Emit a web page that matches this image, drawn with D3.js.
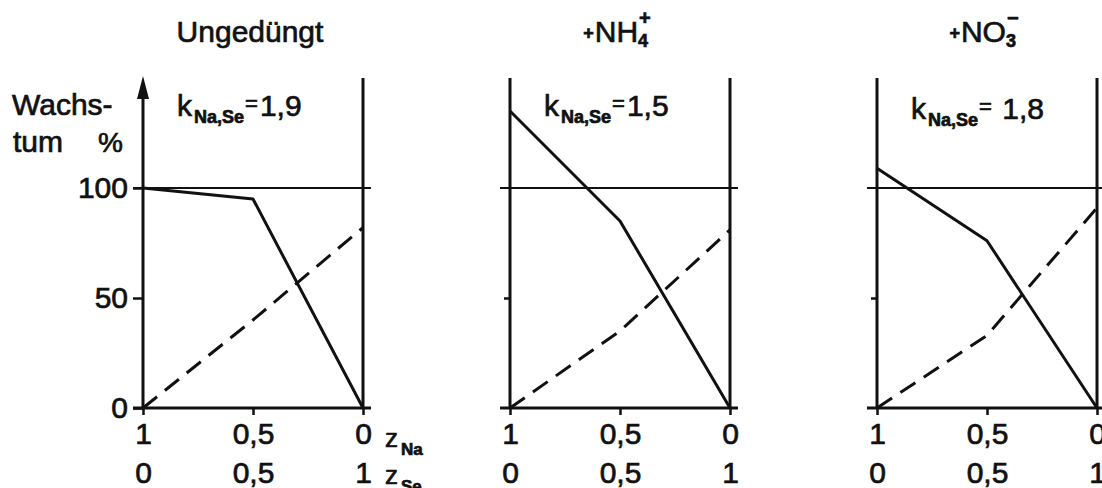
<!DOCTYPE html>
<html>
<head>
<meta charset="utf-8">
<script src="https://cdn.jsdelivr.net/npm/d3@7"></script>
<style>
  body { margin: 0; background: #fff; }
  svg { display: block; font-family: "Liberation Sans", Arial, sans-serif; }
  svg text { fill: #111; stroke: #111; stroke-width: 0.7px; }
  .axisline { stroke: #111; stroke-width: 3; fill: none; }
  .refline { stroke: #111; stroke-width: 2; }
  .na { stroke: #111; stroke-width: 3; fill: none; stroke-linejoin: round; }
  .se { stroke: #111; stroke-width: 3; fill: none; stroke-dasharray: 18 10; }
  .tick line { stroke: #111; stroke-width: 2.5; }
  .tick text { font-size: 30px; }
</style>
</head>
<body>
<div id="chart"></div>
<script>
// chart values
const zNa = [1, 0.5, 0];
const zSe = [0, 0.5, 1];
const titleMain = ["Ungedüngt", "NH", "NO"];
const titleSub = ["", "4", "3"];
const titleSup = ["", "+", "−"];
const kValues = ["1,9", "1,5", " 1,8"];
// solid line: Na fraction, dashed line: Se fraction (growth in %)
const growthNa = [[100, 95, 0], [135, 85, 0], [109, 76, 0]];
const growthSe = [[0, 40, 82], [0, 35, 81], [0, 33, 91]];
const yTicks = [0, 50, 100];
const naTicks = [1, 0.5, 0];
const seTicks = [0, 0.5, 1];

const WIDTH = 1102, HEIGHT = 488;
const PANEL_LEFT = [143, 510, 877];
const PANEL_W = 220;
const Y_TOP = 150; // axis lines go up to this value

const svg = d3.select("#chart").append("svg")
    .attr("width", WIDTH)
    .attr("height", HEIGHT);

const Y_SCALE = d3.scaleLinear().domain([0, 100]).range([408, 188]);
const comma = d => String(d).replace(".", ",");

PANEL_LEFT.forEach((left, i) => {
  const X_NA = d3.scaleLinear().domain([1, 0]).range([left, left + PANEL_W]);
  const X_SE = d3.scaleLinear().domain([0, 1]).range([left, left + PANEL_W]);
  const g = svg.append("g");

  // frame lines
  g.append("line").attr("class", "axisline")
      .attr("x1", left).attr("x2", left)
      .attr("y1", Y_SCALE(0)).attr("y2", Y_SCALE(Y_TOP) + (i === 0 ? 8 : 0));
  g.append("line").attr("class", "axisline")
      .attr("x1", left + PANEL_W).attr("x2", left + PANEL_W)
      .attr("y1", Y_SCALE(0)).attr("y2", Y_SCALE(Y_TOP));
  g.append("line").attr("class", "axisline")
      .attr("x1", left - 10).attr("x2", left + PANEL_W + 8)
      .attr("y1", Y_SCALE(0)).attr("y2", Y_SCALE(0));
  g.append("line").attr("class", "refline")
      .attr("x1", left - 10).attr("x2", left + PANEL_W + 8)
      .attr("y1", Y_SCALE(100)).attr("y2", Y_SCALE(100));

  // y axis: labels only on the first panel, small tick at 50 everywhere
  const yAxis = d3.axisLeft(Y_SCALE)
      .tickValues(i === 0 ? yTicks : [50])
      .tickSize(i === 0 ? 10 : 6)
      .tickPadding(5)
      .tickFormat(i === 0 ? d3.format("d") : "");
  g.append("g").attr("transform", "translate(" + left + ",0)")
      .call(yAxis)
      .call(a => a.select(".domain").remove())
      .call(a => a.selectAll("text").attr("font-family", null).attr("font-size", null));

  // x axis rows: z_Na and z_Se
  g.append("g").attr("transform", "translate(0," + Y_SCALE(0) + ")")
      .call(d3.axisBottom(X_NA).tickValues(naTicks).tickSize(7).tickPadding(8).tickFormat(comma))
      .call(a => a.select(".domain").remove())
      .call(a => a.selectAll("text").attr("font-family", null).attr("font-size", null));
  g.append("g").attr("transform", "translate(0," + Y_SCALE(0) + ")")
      .call(d3.axisBottom(X_SE).tickValues(seTicks).tickSize(0).tickPadding(54).tickFormat(comma))
      .call(a => a.select(".domain").remove())
      .call(a => a.selectAll("line").remove())
      .call(a => a.selectAll("text").attr("font-family", null).attr("font-size", null));

  // curves
  const lineNa = d3.line().x((d, j) => X_NA(zNa[j])).y(d => Y_SCALE(d));
  g.append("path").attr("class", "na").attr("d", lineNa(growthNa[i]));
  const lineSe = d3.line().x((d, j) => X_SE(zSe[j])).y(d => Y_SCALE(d));
  g.append("path").attr("class", "se").attr("d", lineSe(growthSe[i]));

  // title
  const cx = left + PANEL_W / 2 - 3;
  const t = g.append("text").attr("x", cx).attr("y", 42)
      .attr("text-anchor", "middle");
  if (i > 0) {
    t.append("tspan").attr("font-size", 18).attr("font-weight", "bold").attr("dy", -3).text("+");
    t.append("tspan").attr("font-size", 30).attr("dx", 1).attr("dy", 3).text(titleMain[i]);
    t.append("tspan").attr("font-size", 18).attr("font-weight", "bold").attr("dy", 5).text(titleSub[i]);
    t.append("tspan").attr("font-size", 20).attr("font-weight", "bold")
        .attr("dx", -9).attr("dy", -22).text(titleSup[i]);
  } else {
    t.attr("font-size", 30).text(titleMain[i]);
  }

  // selectivity coefficient
  const k = g.append("text").attr("x", left + 34).attr("y", 116 + (i === 2 ? 3 : 0));
  k.append("tspan").attr("font-size", 30).text("k");
  k.append("tspan").attr("font-size", 18).attr("font-weight", "bold")
      .attr("dx", 2).attr("dy", 7).text("Na,Se");
  k.append("tspan").attr("font-size", 22).attr("dx", 1).attr("dy", -12).text("=");
  k.append("tspan").attr("font-size", 30).attr("dx", 2).attr("dy", 5)
      .attr("xml:space", "preserve").text(kValues[i]);
});

// arrow head on the first y axis
const tipY = Y_SCALE(Y_TOP) - 2;
svg.append("path")
    .attr("d", d3.line()([[PANEL_LEFT[0], tipY], [PANEL_LEFT[0] - 6, tipY + 23], [PANEL_LEFT[0] + 6, tipY + 23]]) + "Z")
    .attr("fill", "#111");

// y axis title
svg.append("text").attr("x", 12).attr("y", 115).attr("font-size", 30).text("Wachs-");
svg.append("text").attr("x", 13).attr("y", 152).attr("font-size", 30).text("tum");
svg.append("text").attr("x", 98).attr("y", 152).attr("font-size", 28).text("%");

// x axis names
const zx = PANEL_LEFT[0] + PANEL_W + 22;
const zNaLabel = svg.append("text").attr("x", zx).attr("y", 447);
zNaLabel.append("tspan").attr("font-size", 26).text("z");
zNaLabel.append("tspan").attr("font-size", 17).attr("font-weight", "bold").attr("dx", 3).attr("dy", 8).text("Na");
const zSeLabel = svg.append("text").attr("x", zx).attr("y", 484);
zSeLabel.append("tspan").attr("font-size", 26).text("z");
zSeLabel.append("tspan").attr("font-size", 17).attr("font-weight", "bold").attr("dx", 3).attr("dy", 8).text("Se");
</script>
</body>
</html>
